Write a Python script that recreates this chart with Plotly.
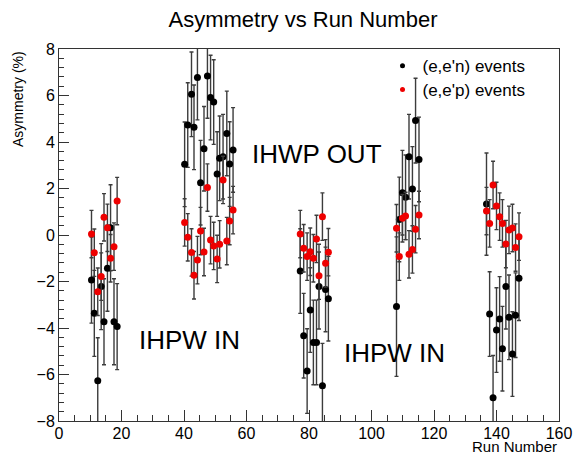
import plotly.graph_objects as go

# ---- data ----
runs = [10.4, 11.3, 12.4, 13.5, 14.4, 15.5, 16.5, 17.6, 18.6,
        40.2, 41.2, 42.4, 43.2, 44.3, 45.3, 46.4, 47.5, 48.5, 49.5, 50.6, 51.4, 52.5, 53.7, 54.6, 55.7,
        77.2, 78.3, 79.4, 80.4, 81.4, 82.4, 83.2, 84.3, 85.3, 86.2,
        108.0, 108.9, 109.9, 110.9, 112.0, 113.1, 114.1, 115.2,
        136.8, 137.8, 138.9, 140.0, 141.0, 141.9, 143.0, 144.0, 145.1, 146.1, 147.2]

asym_n = [-1.94, -3.37, -6.27, -2.22, -3.73, -1.43, 0.31, -3.73, -3.94,
          3.04, 4.73, 6.05, 4.63, 6.77, 2.25, 3.71, 6.84, 5.91, 5.72, 2.62, 3.30, 3.37, 4.37, 3.05, 3.66,
          -1.55, -4.33, -5.85, -3.23, -4.62, -4.62, -2.22, -6.48, -2.34, -2.74,
          -3.08, 0.67, 1.82, 1.62, 3.37, 1.98, 4.92, 3.25,
          1.33, -3.40, -7.00, -4.09, -3.61, -4.89, -2.22, -3.54, -5.12, -3.45, -1.86]

err_n = [1.85, 1.85, 1.85, 1.85, 1.85, 1.85, 1.85, 1.85, 1.85,
         1.82, 1.82, 1.82, 1.82, 1.82, 1.82, 1.82, 1.82, 1.82, 1.82, 1.82, 1.82, 1.82, 1.82, 1.82, 1.82,
         1.82, 1.82, 1.82, 1.82, 1.82, 1.82, 1.82, 1.82, 1.82, 1.82,
         3.0, 1.82, 1.82, 1.82, 1.82, 1.82, 1.82, 1.82,
         2.2, 1.82, 1.82, 1.82, 1.82, 1.82, 1.82, 1.82, 1.82, 1.82, 1.82]

asym_p = [0.04, -0.76, -2.44, -1.79, 0.76, 0.31, -1.00, -0.50, 1.46,
          0.54, -0.10, -0.75, -1.73, -1.08, 0.17, -0.73, 2.04, -0.22, -0.47, -1.03, -0.40, 2.37, -0.26, 0.60, 1.07,
          0.04, -0.57, -0.93, -0.72, -1.00, -0.17, -1.75, 0.79, -1.22, -0.74,
          0.29, -0.93, 0.72, 0.82, -0.83, -0.62, 0.25, 0.86,
          1.03, 0.50, 2.15, 1.25, 0.79, 0.50, -0.39, 0.22, 0.30, -0.54, -0.07]

err_p = [1.02] * len(asym_p)

label_n = "(e,e'n) events"
label_p = "(e,e'p) events"
title = "Asymmetry vs Run Number"
x_title = "Run Number"
y_title = "Asymmetry (%)"

FONT = "Liberation Sans, Arial, Helvetica, sans-serif"
RED = "#ee0000"
BAR = "#3c3c3c"

fig = go.Figure()

fig.add_trace(go.Scatter(
    x=runs, y=asym_n, mode="markers", showlegend=False,
    marker=dict(color="black", size=7),
    error_y=dict(type="data", array=err_n, visible=True, color=BAR, thickness=1.4, width=2),
))
fig.add_trace(go.Scatter(
    x=runs, y=asym_p, mode="markers", showlegend=False,
    marker=dict(color=RED, size=7),
    error_y=dict(type="data", array=err_p, visible=True, color=BAR, thickness=1.4, width=2),
))
# legend entries (each in its own legend box for exact placement)
fig.add_trace(go.Scatter(x=[None], y=[None], mode="markers", name=label_n, legend="legend",
                         marker=dict(color="black", size=5)))
fig.add_trace(go.Scatter(x=[None], y=[None], mode="markers", name=label_p, legend="legend2",
                         marker=dict(color=RED, size=5)))

axis_common = dict(
    showgrid=False, zeroline=False, showline=True, mirror=True,
    linecolor="#333333", linewidth=1,
    ticks="inside", tickcolor="#333333", tickwidth=1,
    tickfont=dict(family=FONT, size=16, color="black"),
)

fig.update_xaxes(range=[0, 160], tick0=0, dtick=20, ticklen=11, ticklabelstandoff=-2,
                 minor=dict(ticks="inside", dtick=5, ticklen=6, tickcolor="#333333"),
                 **axis_common)
fig.update_yaxes(range=[-8, 8], tick0=-8, dtick=2, ticklen=10,
                 minor=dict(ticks="inside", dtick=0.4, ticklen=5, tickcolor="#333333"),
                 **axis_common)

legend_common = dict(xanchor="left", yanchor="middle", bgcolor="rgba(0,0,0,0)",
                     font=dict(family=FONT, size=17, color="black"), itemsizing="trace")

fig.update_layout(
    width=579, height=447,
    margin=dict(l=51, r=28, t=41, b=34),
    paper_bgcolor="white", plot_bgcolor="white",
    font=dict(family=FONT, color="black"),
    title=dict(text=title, x=0.5095, xanchor="center", y=0.974, yanchor="middle",
               font=dict(family=FONT, size=22, color="black")),
    legend=dict(x=0.647, y=0.954, **legend_common),
    legend2=dict(x=0.647, y=0.890, **legend_common),
    annotations=[
        dict(text="IHWP OUT", x=82.6, y=3.5, xref="x", yref="y", showarrow=False,
             font=dict(family=FONT, size=26, color="black")),
        dict(text="IHPW IN", x=41.7, y=-4.5, xref="x", yref="y", showarrow=False,
             font=dict(family=FONT, size=26, color="black")),
        dict(text="IHPW IN", x=107.4, y=-5.06, xref="x", yref="y", showarrow=False,
             font=dict(family=FONT, size=26, color="black")),
        dict(text=y_title, x=0, y=1, xref="paper", yref="paper", xanchor="center", yanchor="top",
             xshift=-41, textangle=-90, showarrow=False,
             font=dict(family=FONT, size=14, color="black")),
        dict(text=x_title, x=1, y=0, xref="paper", yref="paper", xanchor="right", yanchor="middle",
             yshift=-25, showarrow=False,
             font=dict(family=FONT, size=15, color="black")),
    ],
)

fig.write_html("out.html")
